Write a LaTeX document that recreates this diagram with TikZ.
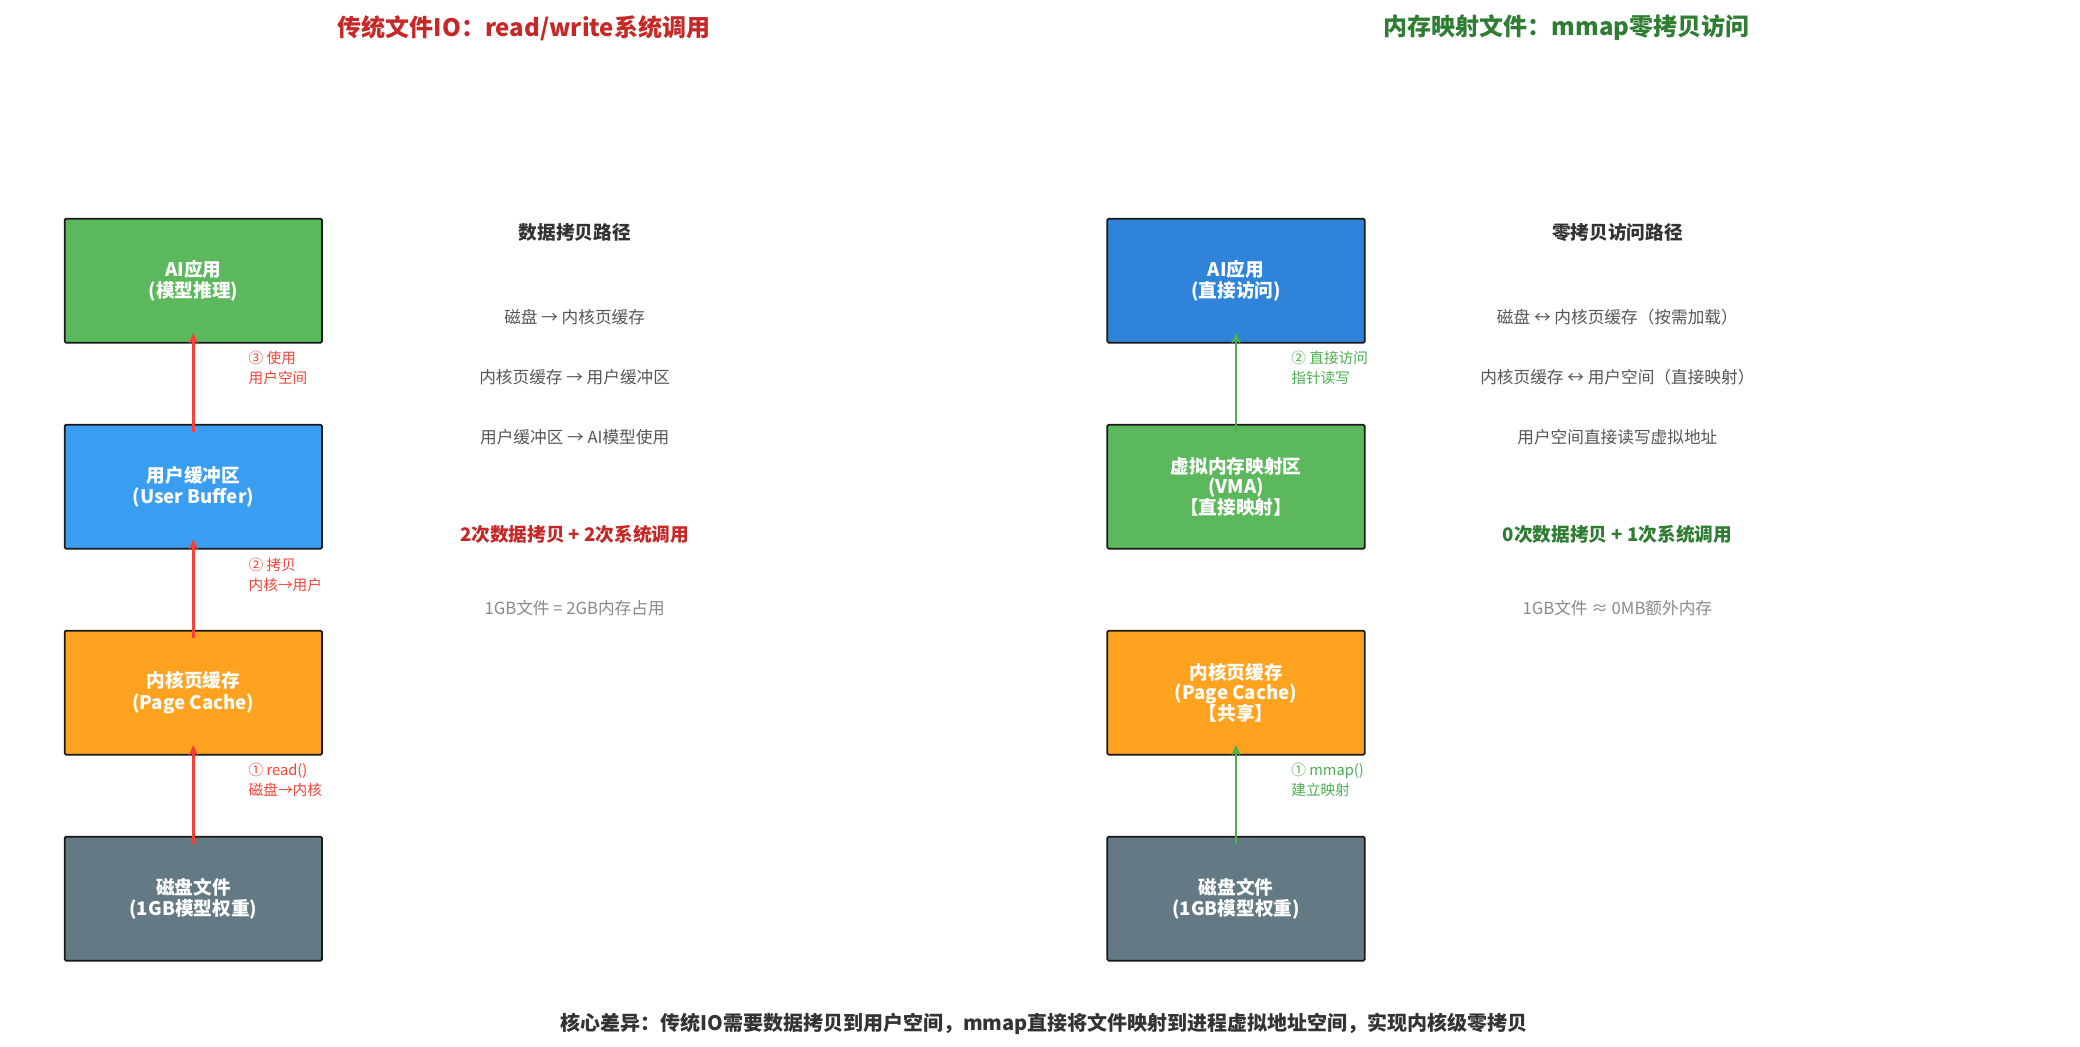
\documentclass[tikz,border=0pt]{standalone}
\usepackage{fontspec}
\usetikzlibrary{arrows.meta}
\setmainfont{Noto Sans CJK SC}
\definecolor{cGreen}{HTML}{5CB85C}
\definecolor{cBlue}{HTML}{399EF2}
\definecolor{cBlueD}{HTML}{2F84D9}
\definecolor{cOrange}{HTML}{FFA21F}
\definecolor{cGray}{HTML}{637A85}
\definecolor{cRed}{HTML}{F44336}
\definecolor{cRedD}{HTML}{C62828}
\definecolor{cGr}{HTML}{4CAF50}
\definecolor{cGrD}{HTML}{2E7D32}
\definecolor{cText}{HTML}{333333}
\definecolor{cMid}{HTML}{555555}
\definecolor{cLight}{HTML}{888888}
\begin{document}
\begin{tikzpicture}[x=1pt,y=-1pt]
  \tikzstyle{box}=[draw=black!90, line width=1.3pt, rounded corners=1pt, minimum width=193pt, minimum height=93pt, text=white, align=center, font=\fontsize{14}{16}\selectfont\bfseries]
  \tikzstyle{up}=[line width=2.2pt, -{Stealth[length=8pt,width=7pt]}]
  \tikzstyle{lbl}=[anchor=west, align=left, font=\fontsize{11}{15}\selectfont]
  \tikzstyle{desc}=[font=\fontsize{12.5}{15}\selectfont, text=cMid]

  \useasboundingbox (0,0) rectangle (1560,785);

  % Titel.
  \node[text=cRedD, font=\fontsize{18}{20}\selectfont\bfseries] (t1) at (393,21) {传统文件IO：read/write系统调用};
  \node[text=cGrD, font=\fontsize{18}{20}\selectfont\bfseries] (t2) at (1175,21) {内存映射文件：mmap零拷贝访问};

  % Links: traditionell.
  \node[box, fill=cGreen] (app) at (145,210.5) {AI应用\\(模型推理)};
  \node[box, fill=cBlue] (buf) at (145,365) {用户缓冲区\\(User Buffer)};
  \node[box, fill=cOrange] (pc) at (145,519.5) {内核页缓存\\(Page Cache)};
  \node[box, fill=cGray] (disk) at (145,674) {磁盘文件\\(1GB模型权重)};

  \draw[up, cRed] ([yshift=-6pt]disk.north) -- ([yshift=8pt]pc.south);
  \draw[up, cRed] ([yshift=-6pt]pc.north) -- ([yshift=8pt]buf.south);
  \draw[up, cRed] ([yshift=-6pt]buf.north) -- ([yshift=8pt]app.south);

  \node[lbl, text=cRed] (l1) at (183,585) {① read()\\磁盘→内核};
  \node[lbl, text=cRed] (l2) at (183,431) {② 拷贝\\内核→用户};
  \node[lbl, text=cRed] (l3) at (183,276) {③ 使用\\用户空间};

  \node[text=cText, font=\fontsize{14}{16}\selectfont\bfseries] (h1) at (431,174) {数据拷贝路径};
  \node[desc] (d1) at (431,238) {磁盘 → 内核页缓存};
  \node[desc] (d2) at (431,283) {内核页缓存 → 用户缓冲区};
  \node[desc] (d3) at (431,328) {用户缓冲区 → AI模型使用};
  \node[text=cRedD, font=\fontsize{14}{16}\selectfont\bfseries] (s1) at (431,401) {2次数据拷贝 + 2次系统调用};
  \node[desc, text=cLight] (m1) at (431,456) {1GB文件 = 2GB内存占用};

  % Rechts: mmap.
  \node[box, fill=cBlueD] (app2) at (927,210.5) {AI应用\\(直接访问)};
  \node[box, fill=cGreen, font=\fontsize{14}{15.5}\selectfont\bfseries] (vma) at (927,365) {虚拟内存映射区\\(VMA)\\【直接映射】};
  \node[box, fill=cOrange, font=\fontsize{14}{15.5}\selectfont\bfseries] (pc2) at (927,519.5) {内核页缓存\\(Page Cache)\\【共享】};
  \node[box, fill=cGray] (disk2) at (927,674) {磁盘文件\\(1GB模型权重)};

  \draw[up, cGr] ([yshift=-6pt]disk2.north) -- ([yshift=8pt]pc2.south);
  \draw[up, cGr] ([yshift=-6pt]vma.north) -- ([yshift=8pt]app2.south);

  \node[lbl, text=cGr] (r1) at (965,585) {① mmap()\\建立映射};
  \node[lbl, text=cGr] (r2) at (965,276) {② 直接访问\\指针读写};

  \node[text=cText, font=\fontsize{14}{16}\selectfont\bfseries] (h2) at (1213,174) {零拷贝访问路径};
  \node[desc] (e1) at (1213,238) {磁盘 ↔ 内核页缓存（按需加载）};
  \node[desc] (e2) at (1213,283) {内核页缓存 ↔ 用户空间（直接映射）};
  \node[desc] (e3) at (1213,328) {用户空间直接读写虚拟地址};
  \node[text=cGrD, font=\fontsize{14}{16}\selectfont\bfseries] (s2) at (1213,401) {0次数据拷贝 + 1次系统调用};
  \node[desc, text=cLight] (m2) at (1213,456) {1GB文件 ≈ 0MB额外内存};

  % Fazit.
  \node[text=cText, font=\fontsize{15}{17}\selectfont\bfseries] (sum) at (783,768) {核心差异：传统IO需要数据拷贝到用户空间，mmap直接将文件映射到进程虚拟地址空间，实现内核级零拷贝};
\end{tikzpicture}
\end{document}
